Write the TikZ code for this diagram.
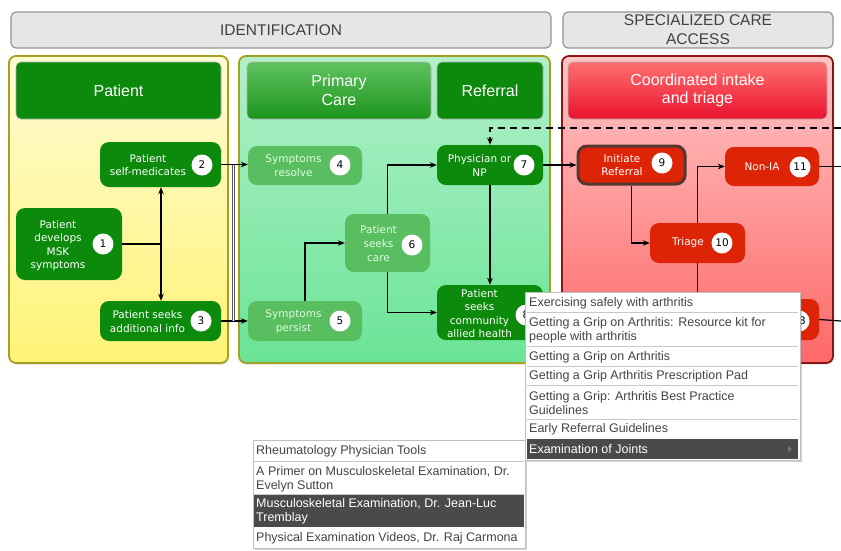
\documentclass[tikz,border=0pt]{standalone}
\usepackage{fontspec}
\setmainfont{Liberation Sans}
\newfontfamily\verd{DejaVu Sans}
\usetikzlibrary{arrows.meta,shadows}
\definecolor{dgreen}{RGB}{12,138,12}
\definecolor{lgreen}{RGB}{88,190,95}
\definecolor{rednode}{RGB}{222,36,6}
\definecolor{olive}{RGB}{165,160,35}
\definecolor{darkred}{RGB}{140,22,22}
\definecolor{hdrfill}{RGB}{230,230,230}
\definecolor{hdrline}{RGB}{150,150,150}
\definecolor{menutext}{RGB}{68,68,68}
\definecolor{hlfill}{RGB}{74,74,74}
\definecolor{sepcol}{RGB}{200,200,200}
\newcommand\rbox[6]{\node[#6, minimum width={#4-#2}, minimum height={#5-#3}] (#1) at ({(#2+#4)/2},{(#3+#5)/2}) {};}
\tikzset{
  hdr/.style={rounded corners=5pt, fill=hdrfill, draw=hdrline, line width=1.2pt, inner sep=0pt},
  hdrtext/.style={text=black!75, font=\fontsize{15.5}{19}\selectfont, align=center, inner sep=0pt},
  panel/.style={rounded corners=7pt, line width=1.8pt, inner sep=0pt, drop shadow={shadow xshift=1pt, shadow yshift=-1.5pt, opacity=0.25}},
  ttl/.style={rounded corners=5pt, inner sep=0pt, draw=black!30, line width=0.6pt},
  ttltext/.style={text=white, font=\fontsize{16}{18.5}\selectfont, align=center, inner sep=0pt},
  dbox/.style={rounded corners=9pt, fill=dgreen, inner sep=0pt},
  lbox/.style={rounded corners=9pt, fill=lgreen, inner sep=0pt},
  rbx/.style={rounded corners=9pt, fill=rednode, inner sep=0pt},
  ntext/.style={text=white, font=\verd\fontsize{10.5}{13.6}\selectfont, align=center, inner sep=0pt},
  ltext/.style={text=white!88!green, font=\verd\fontsize{10.5}{13.6}\selectfont, align=center, inner sep=0pt},
  num/.style={circle, fill=white, minimum size=21pt, inner sep=0pt, font=\verd\fontsize{10.5}{12}\selectfont},
  conn/.style={line width=1.2pt, black},
  arr/.style={conn, -{Stealth[length=7pt,width=5.5pt]}},
  menuframe/.style={fill=white, draw=black!25, line width=0.6pt, inner sep=0pt, drop shadow={shadow xshift=1.5pt, shadow yshift=-2pt, opacity=0.35}},
  mitem/.style={anchor=west, inner sep=0pt, text=menutext, align=left, font=\fontsize{12.5}{14}\selectfont},
  mhl/.style={anchor=west, inner sep=0pt, text=white, align=left, font=\fontsize{12.5}{14}\selectfont},
  msep/.style={draw=sepcol, line width=0.8pt}
}
\begin{document}
\begin{tikzpicture}[x=1pt,y=-1pt]
\useasboundingbox (0,0) rectangle (841,550);
\fill[white] (0,0) rectangle (841,550);
% headers
\rbox{hid}{11}{12}{551}{48}{hdr}
\node[hdrtext] (hidt) at (hid.center) {IDENTIFICATION};
\rbox{hsc}{563}{12}{833}{48}{hdr}
\node[hdrtext] (hsct) at (hsc.center) {SPECIALIZED CARE\\ACCESS};
% panels
\rbox{py}{9}{56}{228}{363}{panel, draw=olive, top color={rgb,255:red,255;green,252;blue,212}, bottom color={rgb,255:red,255;green,243;blue,118}}
\rbox{pg}{239}{56}{550}{363}{panel, draw=olive, top color={rgb,255:red,178;green,240;blue,202}, bottom color={rgb,255:red,106;green,228;blue,150}}
\rbox{pr}{562}{56}{833}{363}{panel, draw=darkred, top color={rgb,255:red,255;green,198;blue,198}, bottom color={rgb,255:red,255;green,104;blue,104}}
% titles
\rbox{tpat}{16}{62}{221}{119}{ttl, fill=dgreen}
\node[ttltext] (tpatt) at (tpat.center) {Patient};
\rbox{tpc}{247}{62}{431}{119}{ttl, top color={rgb,255:red,96;green,194;blue,96}, bottom color={rgb,255:red,28;green,148;blue,28}}
\node[ttltext] (tpct) at (tpc.center) {Primary\\Care};
\rbox{tref}{437}{62}{543}{119}{ttl, fill=dgreen}
\node[ttltext] (treft) at (tref.center) {Referral};
\rbox{tci}{568}{62}{827}{119}{ttl, top color={rgb,255:red,255;green,112;blue,112}, bottom color={rgb,255:red,234;green,18;blue,46}}
\node[ttltext] (tcit) at (tci.center) {Coordinated intake\\and triage};
% nodes
\rbox{n1}{16}{208}{122}{280}{dbox}
\node[ntext] (n1t) at (58,245.5) {Patient\\develops\\MSK\\symptoms};
\node[num] (c1) at (103,244) {1};
\rbox{n2}{100}{142}{221}{187}{dbox}
\node[ntext] (n2t) at (148,165) {Patient\\self-medicates};
\node[num] (c2) at (202,165) {2};
\rbox{n3}{100}{301}{221}{341}{dbox}
\node[ntext] (n3t) at (147.5,321.5) {Patient seeks\\additional info};
\node[num] (c3) at (201,321) {3};
\rbox{n4}{248}{146}{362}{185}{lbox}
\node[ltext] (n4t) at (293.5,165.5) {Symptoms\\resolve};
\node[num] (c4) at (340,165) {4};
\rbox{n5}{248}{301}{362}{341}{lbox}
\node[ltext] (n5t) at (293.5,321.5) {Symptoms\\persist};
\node[num] (c5) at (340,321) {5};
\rbox{n6}{345}{214}{430}{272}{lbox}
\node[ltext] (n6t) at (378.5,243.5) {Patient\\seeks\\care};
\node[num] (c6) at (412,245) {6};
\rbox{n7}{437}{145}{543}{185}{dbox}
\node[ntext] (n7t) at (479.5,165.5) {Physician or\\NP};
\node[num] (c7) at (524,165) {7};
\rbox{n8}{437}{285}{543}{340}{dbox}
\node[ntext] (n8t) at (479.5,313.5) {Patient\\seeks\\community\\allied health};
\node[num] (c8) at (526,315) {8};
\rbox{n9}{578}{146}{685}{184}{rbx, draw={rgb,255:red,85;green,55;blue,50}, line width=3pt}
\node[ntext] (n9t) at (622,165) {Initiate\\Referral};
\node[num] (c9) at (662,163) {9};
\rbox{n10}{650}{223}{745}{263}{rbx}
\node[ntext] (n10t) at (688,243) {Triage};
\node[num] (c10) at (722,243) {10};
\rbox{n11}{725}{147}{819}{186}{rbx}
\node[ntext] (n11t) at (762,166.5) {Non-IA};
\node[num] (c11) at (800,167) {11};
\rbox{n13}{725}{299}{819}{340}{rbx}
\node[num] (c13) at (799,321) {13};
% connectors
\coordinate (j1) at (161,244);
\draw[conn] (n1.east) -- (j1);
\draw[arr] (j1) -- (j1 |- n2.south);
\draw[arr] (j1) -- (j1 |- n3.north);
\draw[arr] (n2.east) -- (n2.east -| n4.west);
\draw[arr] (n3.east) -- (n3.east -| n5.west);
\coordinate (d1) at (233.5,165);
\coordinate (d2) at (233.5,321);
\draw[black!65, line width=0.8pt, double=white, double distance=1.6pt] (d1) -- (d2);
\draw[arr] (n5.north) |- (n6.west);
\draw[arr] (n6.north) |- (n7.west);
\draw[arr] (n6.south) |- (n8.west);
\draw[arr] (n7.south) -- (n8.north);
\coordinate (dz) at (841,128);
\draw[arr, dashed, dash pattern=on 7pt off 5pt] (dz) -| (n7.north);
\draw[arr] (n7.east) -- (n7.east -| n9.west);
\draw[arr] (n9.south) |- (n10.west);
\draw[arr] (n10.north) |- (n11.west);
\coordinate (c10d) at (697.5,300);
\draw[conn] (n10.south) -- (c10d);
\coordinate (e11) at (841,166.5);
\draw[conn] (n11.east) -- (e11);
\coordinate (e13) at (841,321);
\draw[conn] (n13.east) -- (e13);
% menu 2
\rbox{mb}{253}{440}{525}{548}{menuframe}
\node[mitem] (mb1) at (256,451) {Rheumatology Physician Tools};
\draw[msep] (254,461) -- (524,461);
\node[mitem] (mb2) at (256,479) {A Primer on Musculoskeletal Examination, Dr.\\Evelyn Sutton};
\draw[msep] (254,494) -- (524,494);
\fill[hlfill] (254,495) rectangle (524,527);
\node[mhl] (mb3) at (256,511.5) {Musculoskeletal Examination, Dr. Jean-Luc\\Tremblay};
\node[mitem] (mb4) at (256,538) {Physical Examination Videos, Dr. Raj Carmona};
% menu 1
\rbox{ma}{525}{292}{800}{460}{menuframe}
\node[mitem] (ma1) at (529,303) {Exercising safely with arthritis};
\draw[msep] (527,312.5) -- (798,312.5);
\node[mitem] (ma2) at (529,330) {Getting a Grip on Arthritis: Resource kit for\\people with arthritis};
\draw[msep] (527,346.5) -- (798,346.5);
\node[mitem] (ma3) at (529,357) {Getting a Grip on Arthritis};
\draw[msep] (527,366.5) -- (798,366.5);
\node[mitem] (ma4) at (529,376) {Getting a Grip Arthritis Prescription Pad};
\draw[msep] (527,385.5) -- (798,385.5);
\node[mitem] (ma5) at (529,403) {Getting a Grip: Arthritis Best Practice\\Guidelines};
\draw[msep] (527,419.5) -- (798,419.5);
\node[mitem] (ma6) at (529,429.5) {Early Referral Guidelines};
\fill[hlfill] (527,439) rectangle (798,458.5);
\node[mhl] (ma7) at (529,449) {Examination of Joints};
\fill[black!55] (788,446) -- (792,449) -- (788,452) -- cycle;
\end{tikzpicture}
\end{document}
